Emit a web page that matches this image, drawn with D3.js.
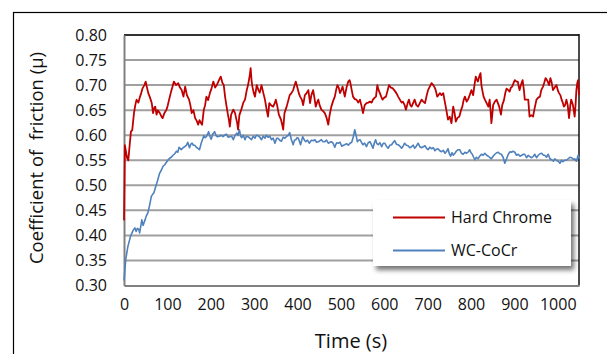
<!DOCTYPE html>
<html>
<head>
<meta charset="utf-8">
<script src="https://cdn.jsdelivr.net/npm/d3@7"></script>
<style>
  html, body { margin: 0; padding: 0; background: #fff; }
  svg { display: block; font-family: "Open Sans", sans-serif; }
</style>
</head>
<body>
<svg id="chart" width="607" height="354"></svg>
<script>
// ---- data ----
const yTicks = [0.30, 0.35, 0.40, 0.45, 0.50, 0.55, 0.60, 0.65, 0.70, 0.75, 0.80];
const xTicks = [0, 100, 200, 300, 400, 500, 600, 700, 800, 900, 1000];
const seriesNames = ["Hard Chrome", "WC-CoCr"];
const seriesColors = ["#C00000", "#4F81BD"];

const hardChromeT = [0,1,2,4,7,10,13,16,19,23,26,29,33,37,40,43,47,50,53,56,60,64,67,70,72,75,78,82,86,89,93,98,101,104,108,111,115,120,125,129,133,137,141,145,150,153,156,160,164,168,171,174,177,180,184,187,190,194,198,202,206,210,214,219,223,227,230,233,236,239,242,244,247,252,256,261,263,266,270,275,279,283,286,290,292,294,296,299,302,306,310,313,317,321,325,329,332,335,339,344,348,350,353,357,362,365,367,370,375,379,382,386,390,396,400,403,406,410,413,417,421,425,429,432,436,439,442,445,448,451,455,459,463,467,471,474,478,482,486,489,492,495,498,501,504,507,509,513,517,520,522,525,528,532,536,540,544,548,551,555,559,563,567,571,574,578,581,584,587,590,593,596,600,604,608,611,615,619,623,628,632,636,640,643,647,650,654,657,660,663,667,670,674,678,682,686,690,694,698,701,705,709,713,717,720,722,725,728,732,736,740,743,747,751,755,759,762,765,769,773,777,780,783,786,790,793,797,801,805,808,811,814,816,819,822,824,826,829,832,836,840,843,845,847,849,851,855,859,862,865,869,872,876,879,882,886,889,892,895,898,901,905,908,910,912,915,919,922,924,928,932,935,939,943,947,951,955,959,962,966,969,972,975,977,980,983,986,989,993,997,1000,1003,1006,1009,1012,1014,1017,1020,1023,1026,1029,1031,1035,1039,1041,1043,1045,1047,1049];
const hardChromeV = [0.43,0.50,0.58,0.57,0.555,0.55,0.58,0.607,0.61,0.644,0.66,0.671,0.665,0.677,0.685,0.694,0.70,0.707,0.695,0.684,0.675,0.664,0.644,0.655,0.657,0.641,0.65,0.645,0.638,0.634,0.644,0.651,0.66,0.671,0.685,0.694,0.707,0.70,0.704,0.695,0.69,0.677,0.697,0.68,0.671,0.66,0.644,0.65,0.634,0.628,0.621,0.63,0.625,0.621,0.651,0.66,0.677,0.67,0.684,0.694,0.707,0.695,0.70,0.71,0.717,0.704,0.70,0.677,0.66,0.644,0.63,0.617,0.641,0.651,0.644,0.624,0.611,0.64,0.65,0.665,0.671,0.69,0.70,0.72,0.734,0.71,0.697,0.685,0.677,0.70,0.69,0.685,0.70,0.685,0.671,0.65,0.637,0.664,0.66,0.657,0.665,0.671,0.66,0.641,0.631,0.62,0.611,0.644,0.657,0.67,0.68,0.684,0.69,0.707,0.694,0.684,0.677,0.671,0.66,0.68,0.684,0.69,0.664,0.68,0.69,0.675,0.657,0.665,0.671,0.66,0.651,0.648,0.644,0.635,0.621,0.64,0.657,0.668,0.677,0.69,0.70,0.695,0.684,0.69,0.697,0.685,0.677,0.695,0.707,0.71,0.704,0.69,0.677,0.672,0.671,0.665,0.671,0.657,0.644,0.66,0.664,0.665,0.667,0.665,0.671,0.675,0.677,0.70,0.69,0.684,0.677,0.671,0.675,0.677,0.69,0.70,0.695,0.694,0.69,0.684,0.677,0.671,0.665,0.667,0.66,0.651,0.664,0.671,0.66,0.657,0.665,0.671,0.66,0.657,0.664,0.671,0.667,0.664,0.68,0.69,0.697,0.704,0.70,0.694,0.685,0.677,0.68,0.684,0.68,0.684,0.665,0.651,0.631,0.637,0.624,0.657,0.645,0.627,0.635,0.637,0.65,0.657,0.67,0.677,0.667,0.671,0.68,0.69,0.68,0.70,0.717,0.71,0.707,0.717,0.724,0.70,0.69,0.677,0.671,0.664,0.657,0.671,0.65,0.624,0.64,0.66,0.667,0.671,0.664,0.657,0.641,0.66,0.67,0.684,0.693,0.69,0.687,0.695,0.697,0.704,0.71,0.707,0.707,0.697,0.69,0.70,0.71,0.69,0.671,0.671,0.671,0.637,0.64,0.637,0.655,0.671,0.675,0.677,0.69,0.697,0.705,0.714,0.71,0.707,0.70,0.714,0.705,0.69,0.695,0.70,0.69,0.684,0.68,0.671,0.664,0.657,0.66,0.671,0.66,0.634,0.66,0.671,0.66,0.637,0.66,0.69,0.704,0.71,0.68];

const wcCoCrT = [0,1.5,4,9,15,21,25,28,31,34,36,39,41,44,46,49,51,55,59,63,66,69,73,77,82,86,90,94,97,101,105,109,113,117,121,124,127,132,136,140,144,147,151,154,157,160,163,168,171,174,178,184,187,190,195,198,201,205,209,212,215,220,224,228,232,236,240,244,248,252,256,260,263,266,269,271,275,279,282,286,290,294,298,302,305,309,313,317,321,325,328,332,336,340,344,348,352,355,359,363,367,371,375,379,382,386,390,393,396,399,402,407,412,416,419,423,427,432,436,440,444,448,452,455,459,463,467,471,475,478,482,486,490,494,498,502,506,509,513,517,521,525,529,532,535,538,541,544,548,551,555,559,563,567,571,574,577,580,583,586,590,594,598,601,605,609,613,617,620,624,628,632,636,640,644,647,651,655,659,663,667,670,674,678,682,686,690,694,698,701,705,709,713,717,720,724,728,732,736,740,744,747,750,753,756,759,763,766,770,774,778,782,786,790,794,797,800,803,806,809,812,816,820,824,828,832,836,840,844,847,851,855,859,863,866,870,874,878,882,886,890,893,897,901,905,909,913,917,921,924,928,932,936,940,944,947,951,955,959,963,967,970,974,978,982,986,990,993,997,1001,1005,1009,1012,1016,1020,1024,1028,1032,1036,1039,1043,1047,1050];
const wcCoCrV = [0.31,0.325,0.352,0.378,0.398,0.41,0.415,0.408,0.414,0.412,0.405,0.42,0.431,0.42,0.425,0.432,0.438,0.445,0.46,0.478,0.482,0.485,0.497,0.508,0.524,0.53,0.538,0.541,0.545,0.55,0.554,0.556,0.56,0.563,0.568,0.566,0.576,0.571,0.575,0.577,0.58,0.586,0.575,0.582,0.584,0.58,0.58,0.575,0.573,0.571,0.584,0.599,0.595,0.597,0.607,0.598,0.592,0.603,0.607,0.6,0.597,0.598,0.6,0.597,0.6,0.602,0.596,0.597,0.598,0.591,0.6,0.604,0.6,0.611,0.598,0.595,0.6,0.591,0.598,0.597,0.594,0.591,0.598,0.594,0.6,0.599,0.596,0.591,0.598,0.594,0.6,0.596,0.598,0.591,0.594,0.584,0.594,0.594,0.59,0.588,0.596,0.594,0.598,0.6,0.605,0.591,0.581,0.59,0.591,0.595,0.594,0.581,0.597,0.59,0.587,0.59,0.584,0.59,0.589,0.591,0.586,0.587,0.589,0.591,0.587,0.587,0.59,0.584,0.586,0.587,0.584,0.576,0.585,0.584,0.586,0.578,0.58,0.581,0.583,0.58,0.584,0.586,0.598,0.611,0.6,0.587,0.59,0.591,0.585,0.581,0.584,0.577,0.585,0.587,0.58,0.574,0.584,0.591,0.583,0.581,0.585,0.577,0.584,0.584,0.578,0.574,0.58,0.581,0.585,0.589,0.582,0.581,0.578,0.574,0.579,0.584,0.58,0.579,0.575,0.577,0.58,0.574,0.578,0.584,0.577,0.575,0.577,0.579,0.573,0.571,0.576,0.573,0.575,0.569,0.572,0.573,0.569,0.567,0.57,0.564,0.568,0.573,0.563,0.558,0.565,0.56,0.564,0.568,0.571,0.571,0.564,0.562,0.566,0.564,0.567,0.571,0.565,0.562,0.556,0.551,0.556,0.553,0.558,0.562,0.56,0.564,0.56,0.558,0.555,0.553,0.558,0.562,0.565,0.566,0.563,0.562,0.556,0.544,0.553,0.562,0.567,0.566,0.568,0.566,0.56,0.562,0.558,0.56,0.562,0.562,0.555,0.56,0.557,0.555,0.558,0.562,0.555,0.56,0.563,0.564,0.56,0.56,0.556,0.562,0.553,0.551,0.548,0.553,0.55,0.548,0.544,0.55,0.547,0.55,0.55,0.553,0.556,0.555,0.552,0.553,0.548,0.56,0.553];

const xTitle = "Time (s)";
const yTitle = "Coefficient of  friction (μ)";

// ---- chart ----
const svg = d3.select("#chart");
const plot = { left: 124, right: 579, top: 35, bottom: 285.5 };

const x = d3.scaleLinear().domain([0, 1049]).range([plot.left, plot.right]);
const y = d3.scaleLinear().domain([0.30, 0.80]).range([plot.bottom, plot.top]);

// outer chart-area border
svg.append("rect")
  .attr("x", 13.5).attr("y", 12.5).attr("width", 700).attr("height", 400)
  .attr("fill", "none").attr("stroke", "#000").attr("stroke-width", 1.2);

// gridlines
svg.append("g").selectAll("line")
  .data(yTicks.filter(d => d > 0.30 && d < 0.80))
  .join("line")
  .attr("x1", plot.left).attr("x2", plot.right)
  .attr("y1", d => y(d)).attr("y2", d => y(d))
  .attr("stroke", "#a0a0a0").attr("stroke-width", 2);

// plot border top/right
svg.append("line").attr("x1", plot.left).attr("x2", plot.right)
  .attr("y1", plot.top).attr("y2", plot.top)
  .attr("stroke", "#333").attr("stroke-width", 2);
svg.append("line").attr("x1", plot.right).attr("x2", plot.right)
  .attr("y1", plot.top - 1).attr("y2", plot.bottom)
  .attr("stroke", "#111").attr("stroke-width", 1.5);

// axes
const yAxis = d3.axisLeft(y).tickValues(yTicks).tickFormat(d3.format(".2f")).tickSize(0).tickPadding(17);
const gy = svg.append("g").attr("transform", `translate(${plot.left},0)`).call(yAxis);
gy.select(".domain").attr("stroke", "#808080").attr("stroke-width", 2);
gy.selectAll("text").attr("font-size", 16).attr("fill", "#111")
  .attr("font-family", "'Open Sans', sans-serif");

const xAxis = d3.axisBottom(x).tickValues(xTicks).tickFormat(d3.format("d")).tickSize(0).tickPadding(13);
const gx = svg.append("g").attr("transform", `translate(0,${plot.bottom})`).call(xAxis);
gx.select(".domain").attr("stroke", "#808080").attr("stroke-width", 2);
gx.selectAll("text").attr("font-size", 16).attr("fill", "#111")
  .attr("font-family", "'Open Sans', sans-serif");

// lines
const lineGen = d3.line().x(d => x(d[0])).y(d => y(d[1]));
const blueData = wcCoCrT.map((t, i) => [t, wcCoCrV[i]]);
const redData = hardChromeT.map((t, i) => [t, hardChromeV[i]]);
svg.append("path").datum(blueData).attr("d", lineGen)
  .attr("fill", "none").attr("stroke", seriesColors[1]).attr("stroke-width", 1.6)
  .attr("stroke-linejoin", "round");
svg.append("path").datum(redData).attr("d", lineGen)
  .attr("fill", "none").attr("stroke", seriesColors[0]).attr("stroke-width", 1.8)
  .attr("stroke-linejoin", "round");

// legend with shadow
const defs = svg.append("defs");
const f = defs.append("filter").attr("id", "shadow").attr("x", "-10%").attr("y", "-10%").attr("width", "130%").attr("height", "140%");
f.append("feGaussianBlur").attr("in", "SourceAlpha").attr("stdDeviation", 2.5).attr("result", "b");
f.append("feOffset").attr("in", "b").attr("dx", 3).attr("dy", 4).attr("result", "o");
f.append("feComponentTransfer").attr("in", "o").attr("result", "o2")
  .append("feFuncA").attr("type", "linear").attr("slope", 0.55);
const m = f.append("feMerge");
m.append("feMergeNode").attr("in", "o2");
m.append("feMergeNode").attr("in", "SourceGraphic");

const lg = svg.append("g");
lg.append("rect").attr("x", 373).attr("y", 200).attr("width", 198).attr("height", 66)
  .attr("fill", "#fff").attr("filter", "url(#shadow)");
seriesNames.forEach((name, i) => {
  const ly = 217.5 + i * 33;
  lg.append("line").attr("x1", 393).attr("x2", 445).attr("y1", ly).attr("y2", ly)
    .attr("stroke", seriesColors[i]).attr("stroke-width", 2);
  lg.append("text").attr("x", 451).attr("y", ly).attr("dy", "0.35em")
    .attr("font-size", 16).attr("fill", "#111").text(name);
});

// titles
svg.append("text").attr("x", 351).attr("y", 348).attr("text-anchor", "middle")
  .attr("font-size", 20).attr("fill", "#111").text(xTitle);
svg.append("text")
  .attr("transform", "translate(43,158) rotate(-90)")
  .attr("text-anchor", "middle").attr("font-size", 18.5).attr("fill", "#111")
  .style("white-space", "pre").text(yTitle);
</script>
</body>
</html>
